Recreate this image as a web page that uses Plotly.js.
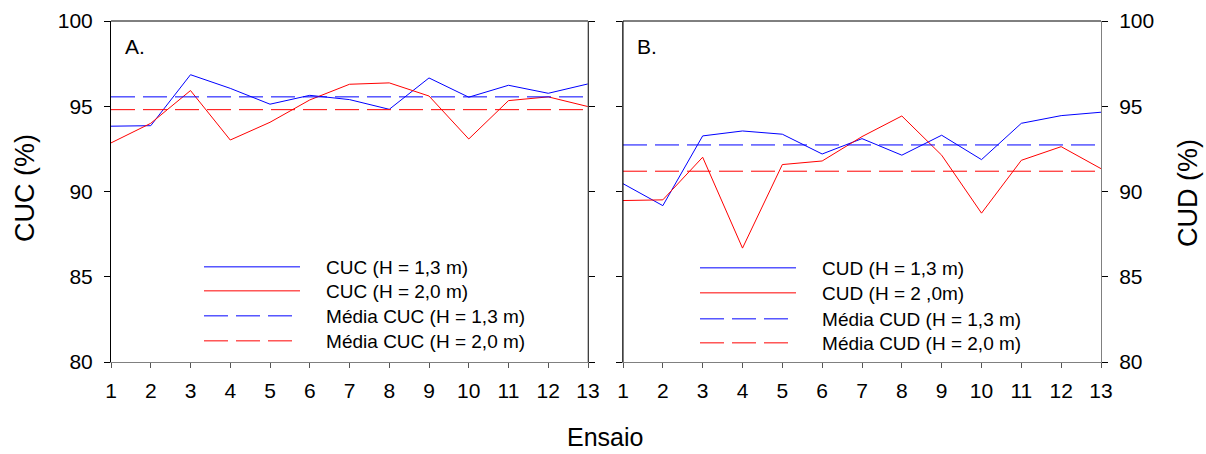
<!DOCTYPE html>
<html>
<head>
<meta charset="utf-8">
<script src="https://cdn.plot.ly/plotly-3.0.1.min.js"></script>
<style>
  html, body { margin: 0; padding: 0; background: #fff; }
  #chart { width: 1206px; height: 454px; }
</style>
</head>
<body>
<div id="chart"></div>
<script>
// ---- data ----
const ensaio = [1, 2, 3, 4, 5, 6, 7, 8, 9, 10, 11, 12, 13];
const cuc13 = [93.83, 93.86, 96.85, 96.05, 95.12, 95.64, 95.39, 94.82, 96.66, 95.53, 96.23, 95.76, 96.31];
const cuc20 = [92.85, 94.00, 95.92, 93.02, 94.06, 95.37, 96.29, 96.37, 95.60, 93.08, 95.33, 95.55, 94.98];
const cud13 = [90.46, 89.17, 93.26, 93.55, 93.36, 92.20, 93.10, 92.13, 93.30, 91.87, 94.00, 94.45, 94.65];
const cud20 = [89.47, 89.51, 92.01, 86.68, 91.58, 91.79, 93.22, 94.43, 92.13, 88.73, 91.83, 92.63, 91.34];
const mediaCUC = [95.55, 94.80];   // H = 1,3 m ; H = 2,0 m
const mediaCUD = [92.73, 91.19];
const yTicks = [80, 85, 90, 95, 100];
const namesA = ['CUC (H = 1,3 m)', 'CUC (H = 2,0 m)', 'Média CUC (H = 1,3 m)', 'Média CUC (H = 2,0 m)'];
const namesB = ['CUD (H = 1,3 m)', 'CUD (H = 2 ,0m)', 'Média CUD (H = 1,3 m)', 'Média CUD (H = 2,0 m)'];

const blue = '#0000ff', red = '#ff0000';
const ends = [ensaio[0], ensaio[ensaio.length - 1]];
const dash = '24px,8px';
const pad = '\u00a0\u00a0\u00a0\u00a0';

function tr(x, y, name, ax, lg, color, dashed) {
  const line = {color: color, width: 1};
  if (dashed) line.dash = dash;
  return {x: x, y: y, name: pad + name, xaxis: 'x' + ax, yaxis: 'y' + ax, legend: lg,
          mode: 'lines', line: line};
}

const traces = [
  tr(ensaio, cuc13, namesA[0], '', 'legend', blue, false),
  tr(ensaio, cuc20, namesA[1], '', 'legend2', red, false),
  tr(ends, [mediaCUC[0], mediaCUC[0]], namesA[2], '', 'legend3', blue, true),
  tr(ends, [mediaCUC[1], mediaCUC[1]], namesA[3], '', 'legend4', red, true),
  tr(ensaio, cud13, namesB[0], '2', 'legend5', blue, false),
  tr(ensaio, cud20, namesB[1], '2', 'legend6', red, false),
  tr(ends, [mediaCUD[0], mediaCUD[0]], namesB[2], '2', 'legend7', blue, true),
  tr(ends, [mediaCUD[1], mediaCUD[1]], namesB[3], '2', 'legend8', red, true)
];

const W = 1206, H = 454;
const fontFam = 'Arial, "Liberation Sans", sans-serif';
const tickFont = {family: fontFam, size: 21, color: '#000'};

function xAx(domain) {
  return {
    domain: domain, range: [1, 13], tickvals: ensaio, ticktext: ensaio.map(String),
    showgrid: false, zeroline: false, showline: true, linecolor: '#808080', linewidth: 1,
    mirror: false, ticks: 'outside', ticklen: 5, tickcolor: '#555', tickwidth: 1,
    tickfont: tickFont, ticklabelstandoff: 5, fixedrange: true
  };
}
function yAx(side, color) {
  return {
    domain: [(H - 362) / H, (H - 21) / H], range: [80, 100], tickvals: yTicks,
    showgrid: false, zeroline: false, showline: true, linecolor: color, linewidth: 1,
    mirror: 'ticks', ticks: 'outside', ticklen: 6, tickcolor: '#000', tickwidth: 1,
    side: side, showticklabels: true, tickfont: tickFont, ticklabelstandoff: 7, fixedrange: true
  };
}

function lg(xpx, topPx) {
  return {
    bgcolor: 'rgba(0,0,0,0)', borderwidth: 0, font: {family: fontFam, size: 19, color: '#000'},
    itemwidth: 96, xanchor: 'left', yanchor: 'top', x: xpx / W, y: 1 - topPx / H
  };
}

const layout = {
  width: W, height: H,
  margin: {l: 0, r: 0, t: 0, b: 0},
  paper_bgcolor: '#fff', plot_bgcolor: '#fff',
  showlegend: true,
  xaxis: xAx([111 / W, 588 / W]),
  yaxis: Object.assign(yAx('left', '#000'), {anchor: 'x'}),
  xaxis2: Object.assign(xAx([623 / W, 1101 / W]), {anchor: 'y2'}),
  yaxis2: Object.assign(yAx('right', '#808080'), {anchor: 'x2'}),
  legend: lg(199, 248), legend2: lg(199, 272), legend3: lg(199, 297), legend4: lg(199, 322),
  legend5: lg(695, 249), legend6: lg(695, 274), legend7: lg(695, 300), legend8: lg(695, 324),
  shapes: [
    {type: 'line', xref: 'x domain', yref: 'y domain', x0: 0, x1: 1, y0: 1, y1: 1, line: {color: '#000', width: 1}},
    {type: 'line', xref: 'x domain', yref: 'y domain', x0: 1, x1: 1, y0: 0, y1: 1, line: {color: '#808080', width: 1}},
    {type: 'line', xref: 'x2 domain', yref: 'y2 domain', x0: 0, x1: 1, y0: 1, y1: 1, line: {color: '#000', width: 1}},
    {type: 'line', xref: 'x2 domain', yref: 'y2 domain', x0: 0, x1: 0, y0: 0, y1: 1, line: {color: '#000', width: 1}}
  ],
  annotations: [
    {text: 'A.', xref: 'x domain', yref: 'y domain', x: 0, y: 1, xanchor: 'left', yanchor: 'top',
     xshift: 12, yshift: -12, showarrow: false, font: {family: fontFam, size: 21, color: '#000'}},
    {text: 'B.', xref: 'x2 domain', yref: 'y2 domain', x: 0, y: 1, xanchor: 'left', yanchor: 'top',
     xshift: 12, yshift: -12, showarrow: false, font: {family: fontFam, size: 21, color: '#000'}},
    {text: 'CUC (%)', xref: 'paper', yref: 'paper', x: 25 / W, y: 1 - 188 / H, textangle: -90,
     xanchor: 'center', yanchor: 'middle', showarrow: false, font: {family: fontFam, size: 27, color: '#000'}},
    {text: 'CUD (%)', xref: 'paper', yref: 'paper', x: 1188 / W, y: 1 - 193 / H, textangle: -90,
     xanchor: 'center', yanchor: 'middle', showarrow: false, font: {family: fontFam, size: 27, color: '#000'}},
    {text: 'Ensaio', xref: 'paper', yref: 'paper', x: 605 / W, y: 1 - 421 / H,
     xanchor: 'center', yanchor: 'top', showarrow: false, font: {family: fontFam, size: 25, color: '#000'}}
  ]
};

Plotly.newPlot('chart', traces, layout, {displayModeBar: false, staticPlot: true});
</script>
</body>
</html>
